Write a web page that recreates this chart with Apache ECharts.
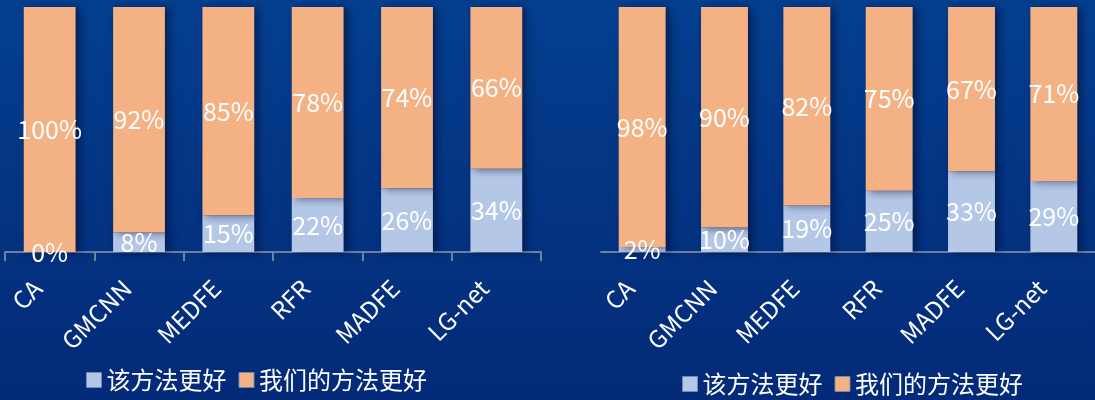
<!DOCTYPE html>
<html>
<head>
<meta charset="utf-8">
<script src="https://cdn.jsdelivr.net/npm/echarts@6/dist/echarts.min.js"></script>
<style>
html,body{margin:0;padding:0;}
#c{width:1095px;height:400px;}
</style>
</head>
<body>
<div id="c"></div>
<script>
const categories = ['CA', 'GMCNN', 'MEDFE', 'RFR', 'MADFE', 'LG-net'];
const seriesNames = ['该方法更好', '我们的方法更好'];
const leftOther = [0, 8, 15, 22, 26, 34];
const leftOurs = [100, 92, 85, 78, 74, 66];
const rightOther = [2, 10, 19, 25, 33, 29];
const rightOurs = [98, 90, 82, 75, 67, 71];

const FONT = '"Noto Sans CJK SC", "Noto Sans", sans-serif';
const BLUE = '#B4C7E7';
const ORANGE = '#F4B183';

const chart = echarts.init(document.getElementById('c'));

function xAx(gi, ticks) {
  return {
    type: 'category', gridIndex: gi, data: categories,
    axisLine: { show: true, lineStyle: { color: '#6f7f9f', width: 2 } },
    axisTick: { show: ticks, alignWithLabel: false, length: 9, lineStyle: { color: '#6f7f9f', width: 2 } },
    axisLabel: { color: '#ffffff', fontSize: 24, rotate: 45, margin: 20, padding: [0, 17, 0, 0], fontFamily: FONT, interval: 0 }
  };
}
function yAx(gi) {
  return { type: 'value', gridIndex: gi, min: 0, max: 100, show: false, splitLine: { show: false } };
}
function ser(name, data, gi, color, bw) {
  return {
    name: name, type: 'bar', stack: 's' + gi, data: data,
    xAxisIndex: gi, yAxisIndex: gi, barWidth: bw,
    itemStyle: {
      color: color,
      shadowColor: 'rgba(0,10,40,0.55)', shadowBlur: 8, shadowOffsetX: 4, shadowOffsetY: 1
    },
    label: {
      show: true, position: 'inside', formatter: '{c}%', color: '#ffffff',
      fontSize: 25, fontFamily: FONT, textBorderWidth: 0
    }
  };
}
function leg(left, top) {
  return {
    left: left, top: top, padding: 0, itemWidth: 15, itemHeight: 15, itemGap: 12, icon: 'rect',
    data: seriesNames,
    itemStyle: { borderColor: 'rgba(120,140,180,0.9)', borderWidth: 1 },
    textStyle: { color: '#ffffff', fontSize: 24, fontFamily: FONT }
  };
}

chart.setOption({
  backgroundColor: {
    type: 'linear', x: 0, y: 0, x2: 0, y2: 1,
    colorStops: [{ offset: 0, color: '#043f8f' }, { offset: 1, color: '#032a78' }]
  },
  textStyle: { fontFamily: FONT },
  animation: false,
  grid: [
    { left: 5, width: 536, top: 7, height: 245 },
    { left: 601, width: 501, top: 7, height: 245 }
  ],
  legend: [leg(86, 368), leg(682, 372)],
  xAxis: [xAx(0, true), xAx(1, false)],
  yAxis: [yAx(0), yAx(1)],
  series: [
    ser(seriesNames[0], leftOther, 0, BLUE, '58%'),
    ser(seriesNames[1], leftOurs, 0, ORANGE, '58%'),
    ser(seriesNames[0], rightOther, 1, BLUE, '57%'),
    ser(seriesNames[1], rightOurs, 1, ORANGE, '57%')
  ]
});
</script>
</body>
</html>
